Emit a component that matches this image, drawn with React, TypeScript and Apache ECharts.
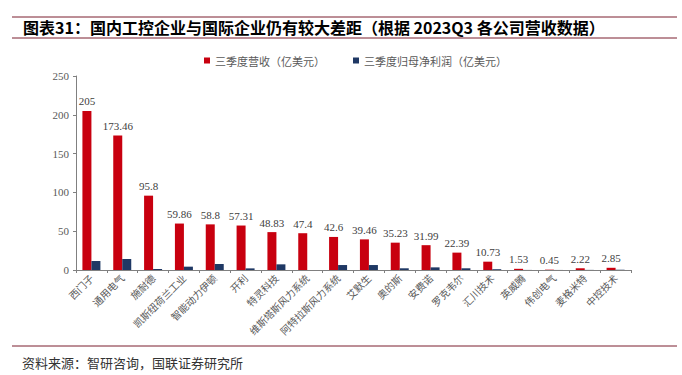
import React, { useEffect, useRef } from "react";
import * as echarts from "echarts";

const categories = [
  "西门子", "通用电气", "施耐德", "凯斯纽荷兰工业", "智能动力伊顿", "开利",
  "特灵科技", "维斯塔斯风力系统", "阿特拉斯风力系统", "艾默生", "奥的斯", "安费诺",
  "罗克韦尔", "汇川技术", "英威腾", "伟创电气", "麦格米特", "中控技术",
];
const revenue = [205, 173.46, 95.8, 59.86, 58.8, 57.31, 48.83, 47.4, 42.6, 39.46, 35.23, 31.99, 22.39, 10.73, 1.53, 0.45, 2.22, 2.85];
const netProfit = [11.6, 14.2, 1.3, 4.3, 7.7, 2.1, 7.3, 0, 6.4, 6.4, 2.2, 3.4, 2.2, 1.0, 0.1, 0.07, 0.15, 0.35];
const seriesNames = ["三季度营收（亿美元）", "三季度归母净利润（亿美元）"];
const yTicks = { min: 0, max: 250, interval: 50 };

const titleText = "图表31：国内工控企业与国际企业仍有较大差距（根据 2023Q3 各公司营收数据）";
const sourceText = "资料来源：智研咨询，国联证券研究所";

export default function App() {
  const ref = useRef<HTMLDivElement>(null);
  useEffect(() => {
    if (!ref.current) return;
    const chart = echarts.init(ref.current, null, { renderer: "svg" });
    const cjk = "'Noto Sans CJK SC', 'Noto Sans', sans-serif";
    const serif = "'Liberation Serif', 'DejaVu Serif', serif";
    chart.setOption({
      animation: false,
      backgroundColor: "#ffffff",
      grid: { left: 76, right: 51, top: 76, bottom: 105, containLabel: false },
      legend: {
        left: 199,
        top: 50,
        icon: "rect",
        itemWidth: 6,
        itemHeight: 6,
        itemGap: 28,
        textStyle: { fontFamily: cjk, fontSize: 11, color: "#595959" },
        data: seriesNames,
      },
      xAxis: {
        type: "category",
        data: categories,
        axisLine: { lineStyle: { color: "#808080" } },
        axisTick: { show: true, alignWithLabel: false, length: 3, lineStyle: { color: "#808080" } },
        axisLabel: {
          rotate: 45,
          interval: 0,
          fontFamily: cjk,
          fontSize: 10,
          color: "#595959",
          margin: 6,
        },
      },
      yAxis: {
        type: "value",
        min: yTicks.min,
        max: yTicks.max,
        interval: yTicks.interval,
        axisLine: { show: true, lineStyle: { color: "#808080" } },
        axisTick: { show: true, length: 3, lineStyle: { color: "#808080" } },
        splitLine: { show: false },
        axisLabel: { fontFamily: serif, fontSize: 11, color: "#595959", margin: 7 },
      },
      series: [
        {
          name: seriesNames[0],
          type: "bar",
          data: revenue,
          barWidth: 9,
          barGap: "0%",
          itemStyle: { color: "#C8000F" },
          label: {
            show: true,
            position: "top",
            distance: 4,
            fontFamily: serif,
            fontSize: 11,
            color: "#404040",
          },
        },
        {
          name: seriesNames[1],
          type: "bar",
          data: netProfit,
          barWidth: 9,
          barGap: "0%",
          itemStyle: { color: "#1F3864" },
        },
      ],
      graphic: [
        { type: "line", shape: { x1: 12, y1: 17, x2: 677, y2: 17 }, style: { stroke: "#7B1F2E", lineWidth: 1 } },
        {
          type: "text",
          left: 23,
          top: 19,
          style: { text: titleText, font: `bold 16px ${cjk}`, fill: "#000000" },
        },
        { type: "line", shape: { x1: 12, y1: 38, x2: 677, y2: 38 }, style: { stroke: "#7B1F2E", lineWidth: 1 } },
        { type: "line", shape: { x1: 12, y1: 346, x2: 677, y2: 346 }, style: { stroke: "#7B1F2E", lineWidth: 1 } },
        {
          type: "text",
          left: 22,
          top: 356,
          style: { text: sourceText, font: `13px ${cjk}`, fill: "#333333" },
        },
      ],
    });
    return () => chart.dispose();
  }, []);
  return <div ref={ref} style={{ width: 682, height: 375, position: "absolute", left: 0, top: 0 }} />;
}
